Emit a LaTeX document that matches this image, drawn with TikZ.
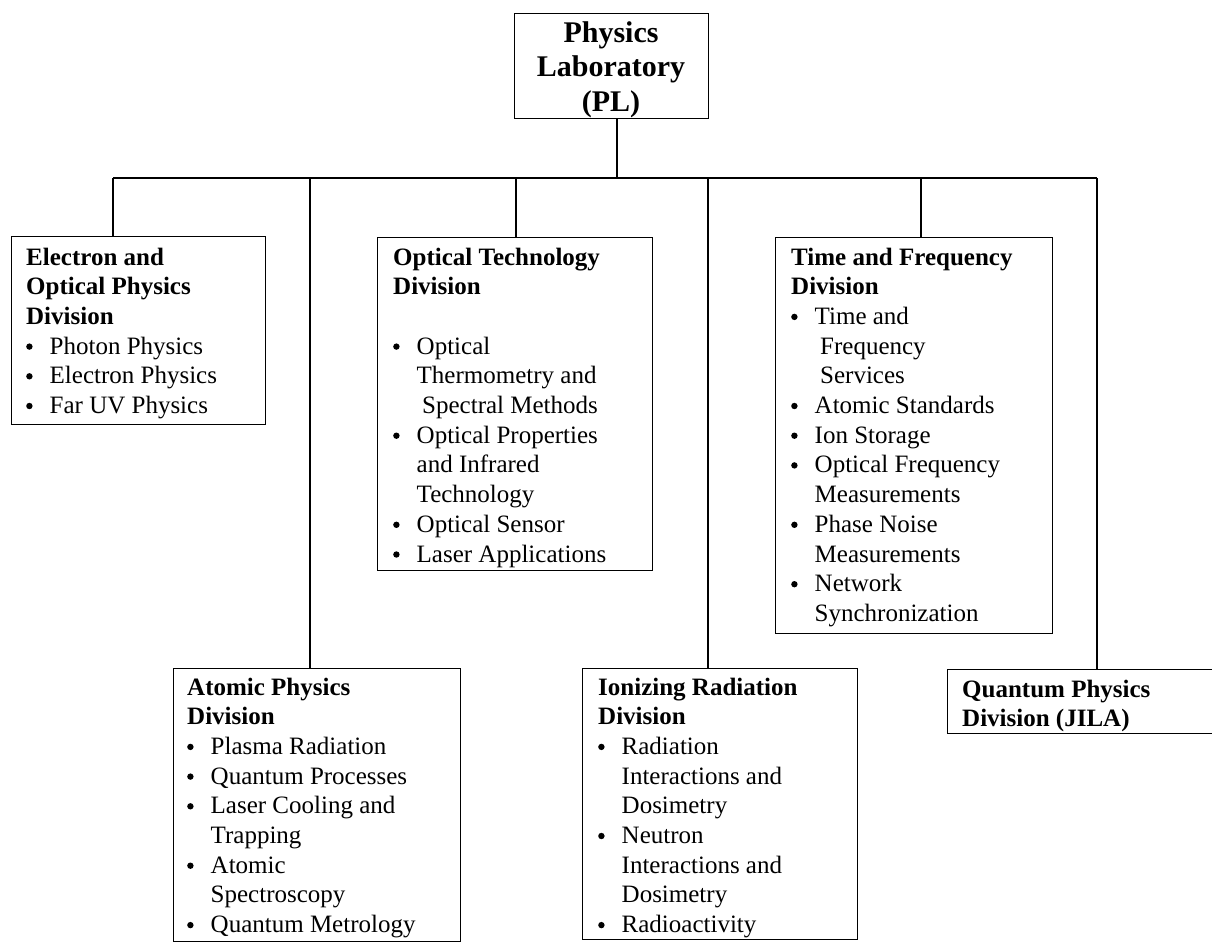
\documentclass[tikz,border=0pt]{standalone}
\usepackage{fontspec}
\setmainfont{Liberation Serif}
\newcommand\bdot{\tikz[baseline=0pt]{\fill (3.5pt,7.5pt) circle (3.2pt);}}
\newcommand\bitem[1]{\makebox[23.5pt][l]{\bdot}#1}
\newcommand\bcont[1]{\hspace*{23.5pt}#1}
\newcommand\bcontx[1]{\hspace*{29pt}#1}
\newcommand\boxtext[1]{\parbox[t]{320pt}{\fontsize{25}{29.7}\selectfont\raggedright #1}}
\tikzset{
  orgbox/.style={draw, line width=1.4pt, rectangle, inner sep=0pt, anchor=north west},
  link/.style={line width=1.2pt},
  txt/.style={anchor=base west, inner sep=0pt}
}
\begin{document}
\begin{tikzpicture}[x=1pt,y=-1pt]
\useasboundingbox (0,0) rectangle (1212,943);

% boxes
\node[orgbox, minimum width=194pt, minimum height=105pt] (pl) at (514,13) {};
\node[orgbox, minimum width=254pt, minimum height=188pt] (eop) at (11,236) {};
\node[orgbox, minimum width=275pt, minimum height=333pt] (opt) at (377,237) {};
\node[orgbox, minimum width=277pt, minimum height=396pt] (tf) at (775,237) {};
\node[orgbox, minimum width=287pt, minimum height=273pt] (atom) at (173,668) {};
\node[orgbox, minimum width=275pt, minimum height=271pt] (ion) at (582,668) {};
\node[orgbox, minimum width=280pt, minimum height=64pt] (qp) at (947,669) {};

% texts
\node[anchor=base, inner sep=0pt] (pltxt) at (611,42) {\parbox[t]{190pt}{\centering\fontsize{30}{34.5}\selectfont\bfseries Physics\\ Laboratory\\ (PL)}};

\node[txt] (eoptxt) at (26,265) {\boxtext{\textbf{Electron and}\\ \textbf{Optical Physics}\\ \textbf{Division}\\
  \bitem{Photon Physics}\\ \bitem{Electron Physics}\\ \bitem{Far UV Physics}}};

\node[txt] (opttxt) at (393,265) {\boxtext{\textbf{Optical Technology}\\ \textbf{Division}\\[29.7pt]
  \bitem{Optical}\\ \bcont{Thermometry and}\\ \bcontx{Spectral Methods}\\
  \bitem{Optical Properties}\\ \bcont{and Infrared}\\ \bcont{Technology}\\
  \bitem{Optical Sensor}\\ \bitem{Laser Applications}}};

\node[txt] (tftxt) at (791,265) {\boxtext{\textbf{Time and Frequency}\\ \textbf{Division}\\
  \bitem{Time and}\\ \bcontx{Frequency}\\ \bcontx{Services}\\
  \bitem{Atomic Standards}\\ \bitem{Ion Storage}\\
  \bitem{Optical Frequency}\\ \bcont{Measurements}\\
  \bitem{Phase Noise}\\ \bcont{Measurements}\\
  \bitem{Network}\\ \bcont{Synchronization}}};

\node[txt] (atomtxt) at (187,695) {\boxtext{\textbf{Atomic Physics}\\ \textbf{Division}\\
  \bitem{Plasma Radiation}\\ \bitem{Quantum Processes}\\
  \bitem{Laser Cooling and}\\ \bcont{Trapping}\\
  \bitem{Atomic}\\ \bcont{Spectroscopy}\\
  \bitem{Quantum Metrology}}};

\node[txt] (iontxt) at (598,695) {\boxtext{\textbf{Ionizing Radiation}\\ \textbf{Division}\\
  \bitem{Radiation}\\ \bcont{Interactions and}\\ \bcont{Dosimetry}\\
  \bitem{Neutron}\\ \bcont{Interactions and}\\ \bcont{Dosimetry}\\
  \bitem{Radioactivity}}};

\node[txt] (qptxt) at (962,697) {\boxtext{\textbf{Quantum Physics}\\ \textbf{Division (JILA)}}};

% connectors
\coordinate (j0) at (617,178);
\coordinate (busL) at (113,178);
\coordinate (jA) at (310,178);
\coordinate (jO) at (516,178);
\coordinate (jI) at (708,178);
\coordinate (jT) at (921,178);
\coordinate (busR) at (1097,178);

\draw[link] (j0 |- pl.south) -- (j0);
\draw[link] (busL) -- (busR);
\draw[link] (busL) -- (busL |- eop.north);
\draw[link] (jA) -- (jA |- atom.north);
\draw[link] (jO) -- (jO |- opt.north);
\draw[link] (jI) -- (jI |- ion.north);
\draw[link] (jT) -- (jT |- tf.north);
\draw[link] (busR) -- (busR |- qp.north);
\end{tikzpicture}
\end{document}
